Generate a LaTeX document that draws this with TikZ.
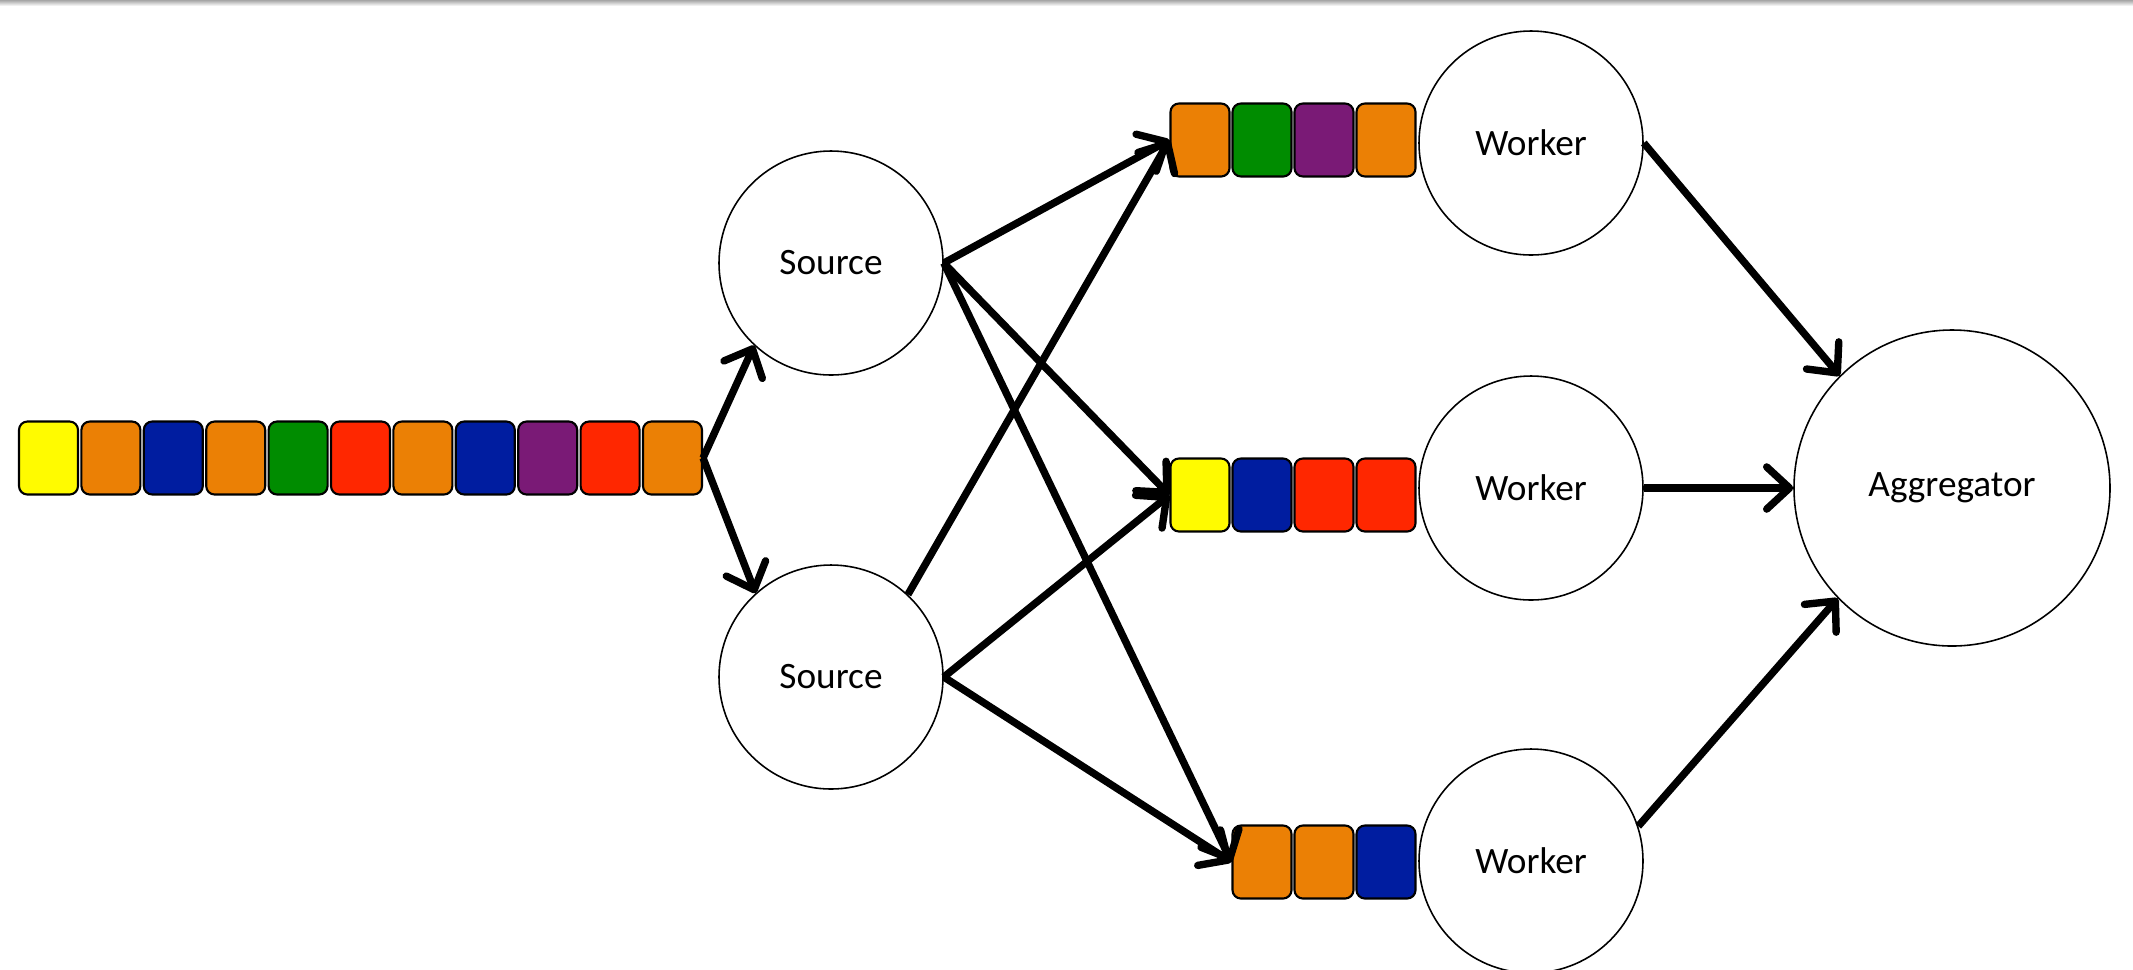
\documentclass[tikz,border=0pt]{standalone}
\usepackage{fontspec}
\setmainfont{Carlito}
\usepackage{xcolor}
\usepackage{tikz}
\usetikzlibrary{shapes,positioning,calc,arrows.meta}

\definecolor{tkyellow}{RGB}{255,251,0}
\definecolor{tkorange}{RGB}{235,128,5}
\definecolor{tkblue}{RGB}{0,29,160}
\definecolor{tkgreen}{RGB}{0,140,0}
\definecolor{tkred}{RGB}{255,39,0}
\definecolor{tkpurple}{RGB}{122,26,118}

\tikzset{
    token/.style={draw, rounded corners=2.4pt, line width=0.6pt, minimum width=0.59cm, minimum height=0.73cm, inner sep=0pt},
    blob/.style={circle, draw, line width=0.45pt, minimum size=2.24cm, inner sep=0pt, font=\fontsize{10.6}{12}\selectfont},
    flow/.style={line width=2.1pt, -{Straight Barb[length=6.5pt, width=12pt, round]}}
}

\begin{document}
\begin{tikzpicture}
    \useasboundingbox (0,0) rectangle (21.33,-9.69);
    \shade[top color=black!35, bottom color=white] (0,0) rectangle (21.33,-0.06);

    % Incoming stream
    \foreach \c [count=\i] in {tkyellow, tkorange, tkblue, tkorange, tkgreen, tkred, tkorange, tkblue, tkpurple, tkred, tkorange}
        \node[token, fill=\c] (lq\i) at ({0.485+0.624*(\i-1)}, -4.58) {};

    % Sources
    \node[blob] (src1) at (8.31,-2.63) {Source};
    \node[blob] (src2) at (8.31,-6.77) {Source};

    % Workers and their queues
    \node[blob] (wk1) at (15.31,-1.43) {Worker};
    \node[blob] (wk2) at (15.31,-4.88) {Worker};
    \node[blob] (wk3) at (15.31,-8.61) {Worker};
    \foreach \c [count=\i] in {tkorange, tkgreen, tkpurple, tkorange}
        \node[token, fill=\c] (wa\i) at ({12.00+0.62*(\i-1)}, -1.40) {};
    \foreach \c [count=\i] in {tkyellow, tkblue, tkred, tkred}
        \node[token, fill=\c] (wb\i) at ({12.00+0.62*(\i-1)}, -4.95) {};
    \foreach \c [count=\i] in {tkorange, tkorange, tkblue}
        \node[token, fill=\c] (wc\i) at ({12.62+0.62*(\i-1)}, -8.62) {};

    % Aggregator
    \node[blob, minimum size=3.16cm] (agg) at (19.52,-4.88) {Aggregator};

    % Connections
    \draw[flow] (lq11.east) -- (src1.227);
    \draw[flow] (lq11.east) -- (src2.132);
    \draw[flow] (src1.east) -- (wa1.west);
    \draw[flow] (src1.east) -- (wb1.west);
    \draw[flow] (src1.east) -- (wc1.west);
    \draw[flow] (src2.47) -- (wa1.west);
    \draw[flow] (src2.east) -- (wb1.west);
    \draw[flow] (src2.east) -- (wc1.west);
    \draw[flow] (wk1.east) -- (agg.135);
    \draw[flow] (wk2.east) -- (agg.west);
    \draw[flow] (wk3.18) -- (agg.224);
\end{tikzpicture}
\end{document}
